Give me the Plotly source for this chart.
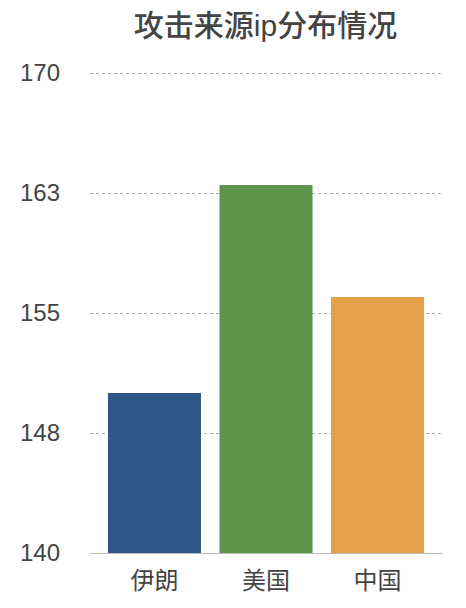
import plotly.graph_objects as go

# data
countries = ["伊朗", "美国", "中国"]
counts = [150, 163, 156]
bar_colors = ["#2E5788", "#5E944C", "#E5A048"]

tick_vals = [140, 147.5, 155, 162.5, 170]
tick_text = ["140", "148", "155", "163", "170"]

# page body has an 8px margin, so the figure is drawn 8px smaller
W, H = 458, 600

fig = go.Figure()
fig.add_trace(go.Bar(x=countries, y=counts, marker_color=bar_colors,
                     marker_line_width=0, hoverinfo="x+y"))

fig.update_layout(
    width=W, height=H,
    margin=dict(l=82, r=24, t=60, b=55),
    paper_bgcolor="white", plot_bgcolor="white",
    font=dict(family="Liberation Sans, Noto Sans CJK SC, sans-serif", color="#444444", size=24),
    title=dict(text="攻击来源ip分布情况", x=257.5 / W, xanchor="center",
               y=1 - 17.5 / H, yanchor="middle",
               font=dict(size=30, color="#444444", weight=500)),
    bargap=0.166,
    showlegend=False,
)
fig.update_xaxes(range=[-0.578, 2.578], showgrid=False, showline=True, automargin=False,
                 linecolor="#bbbbbb", linewidth=1, ticks="", ticklabelstandoff=6,
                 tickfont=dict(size=24))
fig.update_yaxes(range=[140, 170.3125], tickvals=tick_vals, ticktext=tick_text, automargin=False,
                 showgrid=True, gridcolor="#b0b0b0", griddash="dot", gridwidth=1,
                 zeroline=False, showline=False, ticks="", ticklabelstandoff=29,
                 tickfont=dict(size=24))

fig.write_html("out.html")
